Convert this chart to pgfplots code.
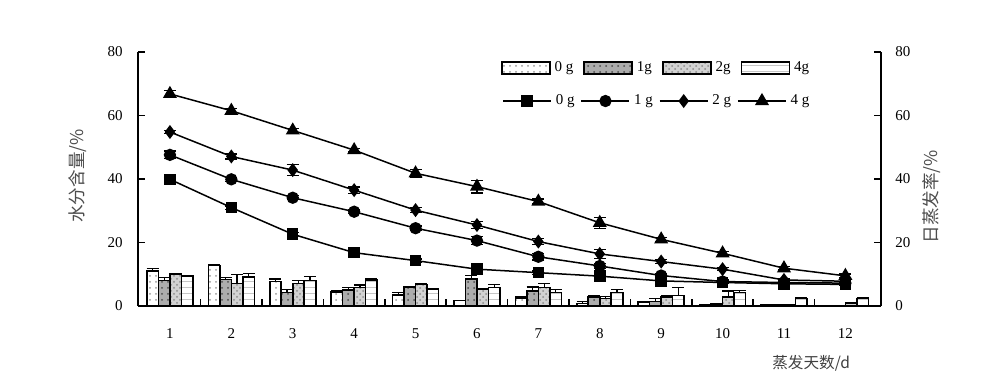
\documentclass[border=0pt]{standalone}
\usepackage{pgfplots}
\pgfplotsset{compat=1.18}
\usepackage{fontspec}
\setmainfont{Liberation Serif}
\newfontfamily\cjk{Noto Sans CJK SC}
\usetikzlibrary{patterns}

\begin{document}
\fontsize{7.5pt}{9pt}\selectfont
\begin{tikzpicture}
\useasboundingbox (-69pt,-39pt) rectangle (431pt,153pt);
% ---------- bars (right axis) ----------
\begin{axis}[
  at={(0,0)}, anchor=south west,
  scale only axis, width=371.5pt, height=127pt,
  xmin=0.48, xmax=12.58, ymin=0, ymax=80,
  clip=false,
  axis x line=none,
  axis y line*=right,
  axis line style={line width=1pt},
  ytick={0,20,40,60,80},
  tick align=inside, major tick length=3.5pt,
  tick style={line width=0.8pt, black},
  yticklabel style={xshift=4.5pt, font=\fontsize{7.5pt}{9pt}\selectfont},
  /pgf/number format/assume math mode=true,
  ybar=0pt, bar width=5.75pt,
  every axis plot/.append style={draw=black, line width=0.8pt},
  error bars/y dir=plus, error bars/y explicit,
  error bars/error bar style={line width=0.6pt, black},
  error bars/error mark options={rotate=90, mark size=3pt, line width=0.6pt, black},
  legend columns=4,
  legend style={at={(0.488,0.937)}, anchor=west, draw=none, fill=none, inner sep=0pt,
    font=\fontsize{7.5pt}{9pt}\selectfont,
    /tikz/every even column/.append style={column sep=3pt}},
  legend image code/.code={\draw[#1] (0pt,-3pt) rectangle (24pt,3pt);},
]
\addplot[fill=white, postaction={pattern=dots, pattern color=gray!80}] table[x=x,y=y,y error=e] {
x y e
1 11.1 0.6
2 12.7 0.4
3 7.7 0.8
4 4.4 0.4
5 3.5 0.7
6 1.7 0.1
7 2.6 0.5
8 0.8 0.6
9 1.2 0.3
10 0.4 0.1
11 0.3 0.1
12 0.0 0.0
};
\addplot[fill=gray!65, postaction={pattern=dots, pattern color=black!70}] table[x=x,y=y,y error=e] {
x y e
1 8.0 0.9
2 8.4 0.5
3 4.2 0.9
4 5.0 0.8
5 5.9 0.3
6 8.5 1.0
7 4.8 1.2
8 2.9 0.5
9 1.4 1.0
10 0.6 0.1
11 0.3 0.1
12 0.1 0.0
};
\addplot[fill=gray!35, postaction={pattern=crosshatch dots, pattern color=gray!90}] table[x=x,y=y,y error=e] {
x y e
1 10.0 0.3
2 7.1 2.9
3 7.1 1.0
4 5.8 0.8
5 6.8 0.3
6 5.3 0.3
7 5.8 1.2
8 2.4 0.5
9 2.9 0.3
10 2.9 1.8
11 0.4 0.1
12 1.0 0.1
};
\addplot[fill=white, postaction={pattern=horizontal lines, pattern color=gray!45}] table[x=x,y=y,y error=e] {
x y e
1 9.4 0.3
2 9.2 1.0
3 8.0 1.2
4 8.2 0.3
5 5.4 0.2
6 5.8 0.9
7 4.3 0.8
8 4.3 0.8
9 3.3 2.4
10 4.2 0.6
11 2.4 0.2
12 2.4 0.1
};
\legend{0 g,1g,2g,4g}
\node[rotate=90, text=black!70, font=\cjk\fontsize{8.8pt}{10pt}\selectfont] at (rel axis cs:1,0.43) [yshift=-25.5pt] {日蒸发率/\%};
\end{axis}

% ---------- lines (left axis) ----------
\begin{axis}[
  at={(0,0)}, anchor=south west,
  scale only axis, width=371.5pt, height=127pt,
  xmin=0.48, xmax=12.58, ymin=0, ymax=80,
  clip=false,
  axis x line*=bottom,
  axis y line*=left,
  axis line style={line width=1pt},
  ytick={0,20,40,60,80},
  xtick={1,...,12},
  minor xtick={1.5,2.5,...,11.5},
  tick align=inside, major tick length=3.5pt, minor tick length=3.5pt,
  xtick style={draw=none},
  minor x tick style={draw=black, line width=0.8pt},
  ytick style={line width=0.8pt, black},
  yticklabel style={xshift=-5pt, font=\fontsize{7.5pt}{9pt}\selectfont},
  xticklabel style={yshift=-8.5pt, font=\fontsize{7.5pt}{9pt}\selectfont},
  /pgf/number format/assume math mode=true,
  every axis plot/.append style={black, line width=0.75pt},
  error bars/y dir=both, error bars/y explicit,
  error bars/error bar style={line width=0.6pt, black},
  error bars/error mark options={rotate=90, mark size=3pt, line width=0.6pt, black},
  legend columns=4,
  legend style={at={(0.49,0.807)}, anchor=west, draw=none, fill=none, inner sep=0pt,
    font=\fontsize{7.5pt}{9pt}\selectfont,
    /tikz/every even column/.append style={column sep=1pt}},
  legend image code/.code={\draw[#1, mark repeat=2, mark phase=2] plot coordinates {(0pt,0pt) (12pt,0pt) (24pt,0pt)};},
]
\addplot[mark=square*, mark size=2.5pt, mark options={solid}] table[x=x,y=y,y error=e] {
x y e
1 39.9 0.5
2 31.0 0.5
3 22.6 0.5
4 16.8 0.4
5 14.3 0.5
6 11.6 0.4
7 10.5 0.5
8 9.4 0.4
9 7.9 0.4
10 7.4 0.4
11 7.0 0.3
12 6.8 0.3
};
\addplot[mark=*, mark size=2.7pt] table[x=x,y=y,y error=e] {
x y e
1 47.6 1.2
2 39.9 0.6
3 34.1 0.6
4 29.7 0.6
5 24.5 0.7
6 20.6 1.2
7 15.5 1.0
8 12.6 0.8
9 9.6 0.6
10 7.7 0.5
11 7.4 0.4
12 7.2 0.4
};
\addplot[mark=diamond*, mark size=2.9pt] table[x=x,y=y,y error=e] {
x y e
1 54.8 0.5
2 47.1 0.8
3 42.8 1.8
4 36.5 1.0
5 30.2 0.7
6 25.5 1.0
7 20.3 0.9
8 16.4 1.5
9 14.0 0.6
10 11.6 0.5
11 8.2 0.5
12 7.8 0.5
};
\addplot[mark=triangle*, mark size=3.3pt] table[x=x,y=y,y error=e] {
x y e
1 66.8 1.0
2 61.5 0.8
3 55.3 0.6
4 49.1 0.6
5 41.8 1.3
6 37.6 2.0
7 32.9 0.8
8 26.2 1.8
9 21.0 0.6
10 16.6 0.6
11 11.9 0.5
12 9.5 0.6
};
\legend{0 g,1 g,2 g,4 g}
\node[rotate=90, text=black!70, font=\cjk\fontsize{8.8pt}{10pt}\selectfont] at (rel axis cs:0,0.512) [yshift=30pt] {水分含量/\%};
\node[text=black!75, font=\cjk\fontsize{7.8pt}{9pt}\selectfont] at (rel axis cs:0.906,0) [yshift=-28.5pt] {蒸发天数/d};
\end{axis}
\end{tikzpicture}
\end{document}
